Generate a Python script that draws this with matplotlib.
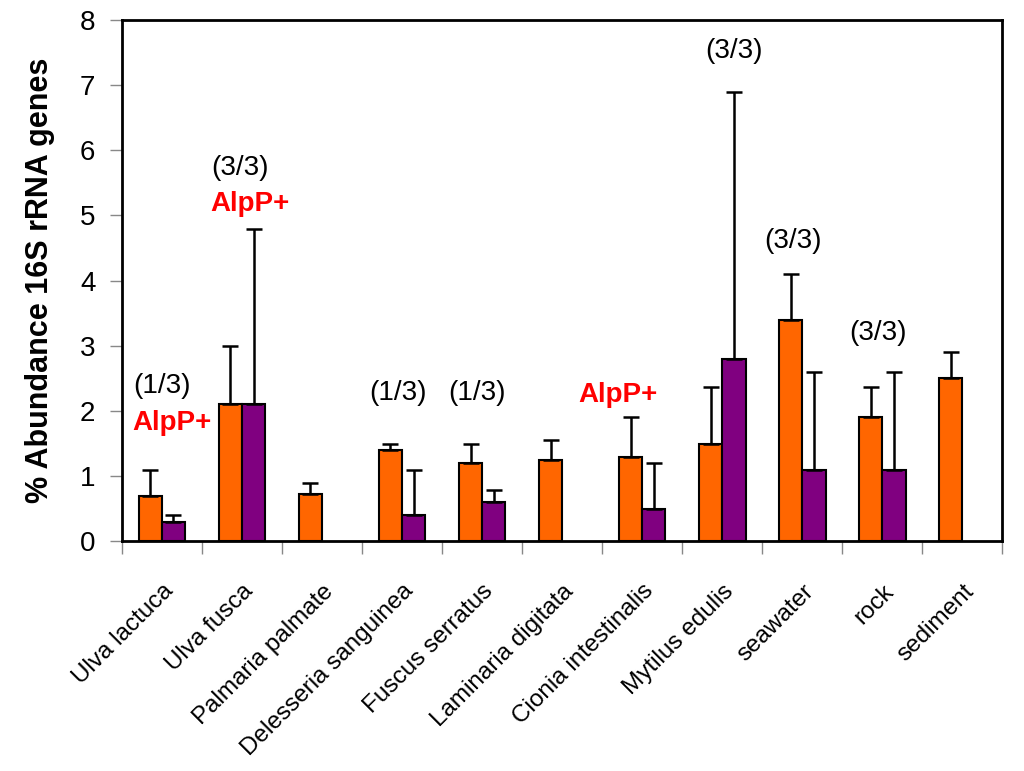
import matplotlib.pyplot as plt
import numpy as np

plt.rcParams['font.family'] = ['Liberation Sans', 'DejaVu Sans']

categories = ['Ulva lactuca', 'Ulva fusca', 'Palmaria palmate', 'Delesseria sanguinea',
              'Fuscus serratus', 'Laminaria digitata', 'Cionia intestinalis',
              'Mytilus edulis', 'seawater', 'rock', 'sediment']
orange_vals = [0.7, 2.1, 0.73, 1.4, 1.2, 1.25, 1.3, 1.5, 3.4, 1.9, 2.5]
orange_err = [0.4, 0.9, 0.17, 0.1, 0.3, 0.3, 0.6, 0.87, 0.7, 0.47, 0.4]
purple_vals = [0.3, 2.1, np.nan, 0.4, 0.6, np.nan, 0.5, 2.8, 1.1, 1.1, np.nan]
purple_err = [0.1, 2.7, 0.0, 0.7, 0.19, 0.0, 0.7, 4.1, 1.5, 1.5, 0.0]

# (x, y, text, red/bold)
notes = [(0.0, 2.39, '(1/3)', False), (0.13, 1.81, 'AlpP+', True),
         (0.97, 5.73, '(3/3)', False), (1.1, 5.18, 'AlpP+', True),
         (2.95, 2.27, '(1/3)', False), (3.93, 2.27, '(1/3)', False),
         (5.7, 2.24, 'AlpP+', True), (7.14, 7.52, '(3/3)', False),
         (7.88, 4.61, '(3/3)', False), (8.95, 3.19, '(3/3)', False)]

fig = plt.figure(figsize=(10.24, 7.71), dpi=100)
ax = fig.add_axes((0.119, 0.298, 0.860, 0.676))

x = np.arange(len(categories))
w = 0.29
n = len(categories)
ekw = dict(elinewidth=1.8, capthick=1.8, ecolor='black')

ax.bar(x - w/2, orange_vals, w, color='#FF6600', edgecolor='black', linewidth=1.5,
       yerr=[np.zeros(n), orange_err], capsize=6, error_kw=ekw, zorder=2)
ax.bar(x + w/2, purple_vals, w, color='#800080', edgecolor='black', linewidth=1.5,
       yerr=[np.zeros(n), purple_err], capsize=6, error_kw=ekw, zorder=2)

for nx, ny, txt, red in notes:
    if red:
        ax.text(nx, ny, txt, color='#FF0000', fontsize=20, fontweight='bold',
                ha='center', va='center')
    else:
        ax.text(nx, ny, txt, color='black', fontsize=20, ha='center', va='center')

ax.set_xlim(-0.5, n - 0.5)
ax.set_ylim(0, 8)
ax.set_yticks(range(0, 9))

ax.set_xticks(np.arange(-0.5, n, 1.0))
ax.set_xticklabels([])
ax.set_xticks(x, minor=True)
ax.set_xticklabels(categories, minor=True, rotation=45, ha='right',
                   rotation_mode='anchor', fontsize=17.5)
ax.tick_params(axis='x', which='minor', length=0, pad=28)
ax.tick_params(axis='x', which='major', length=9, width=1, color='#888888', direction='out')
ax.tick_params(axis='y', length=9, width=1, color='#888888', direction='out',
               labelsize=20, pad=10)

for s in ax.spines.values():
    s.set_linewidth(2)

ax.set_ylabel('% Abundance 16S rRNA genes', fontsize=22, fontweight='bold', labelpad=18)

plt.savefig('out.png', dpi=100)
